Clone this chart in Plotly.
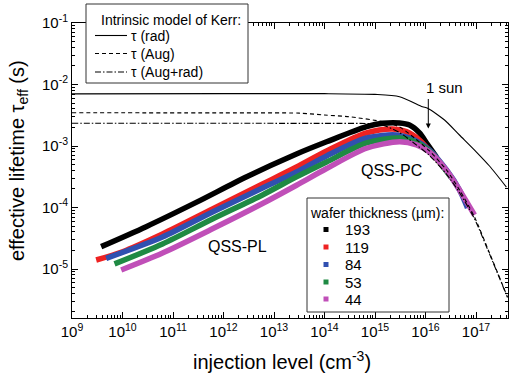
import plotly.graph_objects as go

# ---------------- data ----------------
thickness_labels = ["193", "119", "84", "53", "44"]
series_colors = ["#000000", "#ee2222", "#3050b0", "#1f8a43", "#c04fb8"]

n_193 = [3.78e9, 2.94e10, 2.88e11, 2.81e12, 2.79e13, 1.10e14, 6.79e14, 1.41e15, 3.06e15, 4.82e15, 7.61e15, 1.05e16, 1.65e16]
tau_193 = [2.31e-5, 4.88e-5, 1.21e-4, 3.13e-4, 7.41e-4, 1.17e-3, 2.06e-3, 2.34e-3, 2.37e-3, 2.19e-3, 1.63e-3, 1.12e-3, 6.63e-4]

n_119 = [3.01e9, 1.0e10, 6.19e10, 6.05e11, 5.92e12, 2.79e13, 1.10e14, 6.79e14, 2.22e15, 4.21e15, 7.61e15, 1.31e16, 2.27e16]
tau_119 = [1.40e-5, 1.91e-5, 3.71e-5, 9.46e-5, 2.41e-4, 4.56e-4, 8.3e-4, 1.63e-3, 1.89e-3, 1.71e-3, 1.25e-3, 7.69e-4, 4.56e-4]

n_84 = [4.75e9, 6.19e10, 6.05e11, 5.92e12, 2.79e13, 1.10e14, 6.79e14, 2.67e15, 6.05e15, 1.20e16, 2.61e16, 4.71e16, 6.79e16]
tau_84 = [1.49e-5, 3.31e-5, 8.46e-5, 2.07e-4, 3.78e-4, 6.9e-4, 1.35e-3, 1.51e-3, 1.25e-3, 8.61e-4, 4.07e-4, 1.93e-4, 9.82e-5]

n_53 = [6.95e9, 6.19e10, 6.05e11, 5.92e12, 2.79e13, 1.10e14, 6.79e14, 3.06e15, 6.95e15, 1.31e16, 3.27e16]
tau_53 = [1.21e-5, 2.55e-5, 6.50e-5, 1.60e-4, 3.15e-4, 5.5e-4, 1.12e-3, 1.35e-3, 1.12e-3, 7.69e-4, 3.02e-4]

n_44 = [9.42e9, 6.19e10, 6.05e11, 5.92e12, 2.79e13, 1.10e14, 6.79e14, 3.06e15, 6.64e15, 1.20e16, 2.57e16, 4.71e16, 7.44e16, 9.34e16]
tau_44 = [9.64e-6, 1.82e-5, 4.5e-5, 1.16e-4, 2.3e-4, 4.3e-4, 9.2e-4, 1.17e-3, 1.04e-3, 7.98e-4, 4.07e-4, 1.93e-4, 1.03e-4, 7.55e-5]

# intrinsic model of Kerr
model_labels = ["\u03c4 (rad)", "\u03c4 (Aug)", "\u03c4 (Aug+rad)"]
n_rad = [1e9, 1e12, 1e14, 1e15, 3.06e15, 8.7e15, 1.1e16, 2.38e16, 4.7e16, 1.02e17, 1.85e17, 4.0e17]
tau_rad = [7.05e-3, 7.1e-3, 7.1e-3, 6.9e-3, 6.34e-3, 4.36e-3, 4.1e-3, 2.65e-3, 1.51e-3, 7.98e-4, 4.73e-4, 2.15e-4]

n_aug = [1e9, 1e12, 3.2e13, 1.0e14, 3.1e14, 1.41e15, 3.06e15, 6.05e15, 1.2e16, 2.61e16, 4.71e16, 9.34e16, 1.85e17, 4.2e17]
tau_aug = [3.47e-3, 3.45e-3, 3.42e-3, 3.19e-3, 2.99e-3, 2.48e-3, 2.04e-3, 1.35e-3, 8.3e-4, 4.07e-4, 1.93e-4, 7.0e-5, 1.82e-5, 3.51e-6]

n_augrad = [1e9, 1e12, 1e14, 1e15, 1.41e15, 3.06e15, 6.05e15, 1.2e16, 2.6e16, 4.7e16, 9.3e16, 1.85e17, 4.2e17]
tau_augrad = [2.34e-3, 2.34e-3, 2.33e-3, 2.3e-3, 2.2e-3, 1.65e-3, 1.1e-3, 7.0e-4, 3.5e-4, 1.75e-4, 6.6e-5, 1.76e-5, 3.45e-6]

x_tick_vals = [1e9, 1e10, 1e11, 1e12, 1e13, 1e14, 1e15, 1e16, 1e17]
x_tick_text = ["10<sup>9</sup>", "10<sup>10</sup>", "10<sup>11</sup>", "10<sup>12</sup>", "10<sup>13</sup>",
               "10<sup>14</sup>", "10<sup>15</sup>", "10<sup>16</sup>", "10<sup>17</sup>"]
y_tick_vals = [1e-5, 1e-4, 1e-3, 1e-2, 1e-1]
y_tick_text = ["10<sup>-5</sup>", "10<sup>-4</sup>", "10<sup>-3</sup>", "10<sup>-2</sup>", "10<sup>-1</sup>"]

# ---------------- figure ----------------
FONT = "Liberation Sans, Arial, sans-serif"
W, H = 510, 376
ML, MR, MT, MB = 72, 2, 23, 58
PW, PH = W - ML - MR, H - MT - MB


def X(px):
    return (px - ML) / PW


def Y(py):
    return (H - MB - py) / PH


fig = go.Figure()

measured = [(n_193, tau_193), (n_119, tau_119), (n_84, tau_84), (n_53, tau_53), (n_44, tau_44)]
for (xs, ys), lab, col in zip(measured, thickness_labels, series_colors):
    fig.add_trace(go.Scatter(x=xs, y=ys, mode="lines", name=lab,
                             line=dict(color=col, width=5.5, shape="spline", smoothing=0.8),
                             showlegend=False))

model_dash = ["solid", "4px,3px", "6px,2px,1.5px,2px"]
for (xs, ys), lab, dsh in zip([(n_rad, tau_rad), (n_aug, tau_aug), (n_augrad, tau_augrad)], model_labels, model_dash):
    fig.add_trace(go.Scatter(x=xs, y=ys, mode="lines", name=lab,
                             line=dict(color="black", width=1.1, dash=dsh, shape="spline", smoothing=0.7),
                             showlegend=False))

minor_x = [k * 10 ** e for e in range(9, 18) for k in range(2, 10)]
minor_y = [k * 10.0 ** e for e in range(-6, -1) for k in range(2, 10)]

axis_common = dict(type="log", showgrid=False, zeroline=False, ticks="inside", ticklen=6, tickwidth=1,
                   tickcolor="black", showline=True, linecolor="black", linewidth=1, mirror="allticks",
                   tickfont=dict(family=FONT, size=15, color="black"), tickmode="array", automargin=False)

fig.update_xaxes(range=[9, 9 + PW / 50.5], tickvals=x_tick_vals, ticktext=x_tick_text,
                 minor=dict(tickmode="array", tickvals=minor_x, ticks="inside", ticklen=3,
                            tickcolor="black", showgrid=False), **axis_common)
fig.update_yaxes(range=[-1 - PH / 61.5, -1], tickvals=y_tick_vals, ticktext=y_tick_text,
                 minor=dict(tickmode="array", tickvals=minor_y, ticks="inside", ticklen=3,
                            tickcolor="black", showgrid=False), **axis_common)

shapes = []
annotations = []


def text(px, py, t, size, anchor="center", **kw):
    d = dict(xref="paper", yref="paper", x=X(px), y=Y(py), xanchor=anchor, yanchor="middle",
             text=t, showarrow=False, font=dict(family=FONT, size=size, color="black"))
    d.update(kw)
    annotations.append(d)


# legend 1 (model)
shapes.append(dict(type="rect", xref="paper", yref="paper", x0=X(86), x1=X(248), y0=Y(83), y1=Y(4),
                   line=dict(color="#333333", width=1), fillcolor="white", layer="above"))
text(99, 20, "Intrinsic model of Kerr:", 14, "left")
for i, (lab, dsh) in enumerate(zip(model_labels, model_dash)):
    yy = [35.5, 53.5, 72][i]
    shapes.append(dict(type="line", xref="paper", yref="paper", x0=X(95), x1=X(127), y0=Y(yy), y1=Y(yy),
                       line=dict(color="black", width=1.1, dash=dsh), layer="above"))
    text(129, yy, lab, 14, "left")

# legend 2 (thickness)
shapes.append(dict(type="rect", xref="paper", yref="paper", x0=X(307), x1=X(449), y0=Y(312), y1=Y(198),
                   line=dict(color="#333333", width=1), fillcolor="white", layer="above"))
text(308, 213, "wafer thickness (\u00b5m):", 14, "left")
rows = [229.5, 247, 264.5, 282, 299]
for lab, col, yy in zip(thickness_labels, series_colors, rows):
    shapes.append(dict(type="rect", xref="paper", yref="paper", x0=X(323.5), x1=X(328.5),
                       y0=Y(yy + 2.5), y1=Y(yy - 2.5), line=dict(width=0), fillcolor=col, layer="above"))
    text(343, yy, lab, 15, "left")

# text labels
text(237.5, 246.5, "QSS-PL", 16)
text(391, 170, "QSS-PC", 16)
text(444.5, 88, "1 sun", 15)
annotations.append(dict(xref="paper", yref="paper", x=X(428.3), y=Y(128.5), text="", showarrow=True,
                        ax=0, ay=-31, arrowhead=2, arrowsize=1, arrowwidth=1, arrowcolor="black"))

# axis titles
text(281.5, 360, "injection level (cm<sup>-3</sup>)", 20)
text(18, 161, "effective lifetime \u03c4<sub>eff</sub> (s)", 20, textangle=-90)

fig.update_layout(width=W, height=H, margin=dict(l=ML, r=MR, t=MT, b=MB),
                  paper_bgcolor="white", plot_bgcolor="white", showlegend=False,
                  shapes=shapes, annotations=annotations, font=dict(family=FONT, color="black"))

fig.write_html("out.html")
